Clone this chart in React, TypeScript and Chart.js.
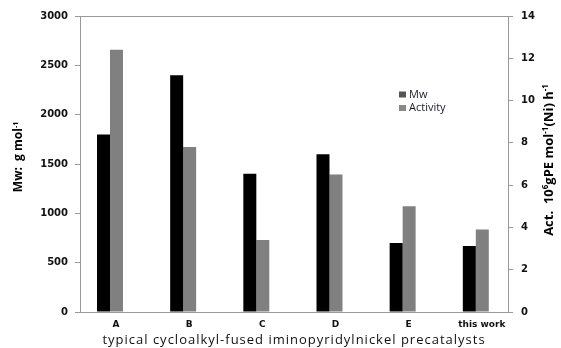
import { useEffect, useRef } from 'react';
import { Chart, registerables } from 'chart.js';

Chart.register(...registerables);

const categories = ['A', 'B', 'C', 'D', 'E', 'this work'];
const mwValues = [1800, 2400, 1400, 1600, 700, 670];
const activityValues = [12.4, 7.8, 3.4, 6.5, 5.0, 3.9];
const seriesNames = ['Mw', 'Activity'];
const mwRange = [0, 3000];
const mwStep = 500;
const actRange = [0, 14];
const actStep = 2;
const xTitle = 'typical cycloalkyl-fused iminopyridylnickel precatalysts';
const leftTitle = [{ t: 'Mw:  g mol' }, { t: '-1', sup: true }];
const rightTitle = [
  { t: 'Act.  10' },
  { t: '6', sup: true },
  { t: 'gPE mol' },
  { t: '-1', sup: true },
  { t: '(Ni) h' },
  { t: '-1', sup: true },
];

type Seg = { t: string; sup?: boolean };

const AXIS = '#9a9a9a';
const TICK_FONT = { family: 'DejaVu Sans', size: 10, weight: 'bold' as const };

function drawRich(ctx: CanvasRenderingContext2D, segs: Seg[], size: number, family: string, weight: string) {
  const main = `${weight} ${size}px ${family}`;
  const sup = `${weight} ${Math.round(size * 0.62)}px ${family}`;
  let total = 0;
  for (const s of segs) {
    ctx.font = s.sup ? sup : main;
    total += ctx.measureText(s.t).width;
  }
  let x = -total / 2;
  ctx.textAlign = 'left';
  ctx.textBaseline = 'alphabetic';
  const base = size * 0.35;
  for (const s of segs) {
    ctx.font = s.sup ? sup : main;
    ctx.fillText(s.t, x, s.sup ? base - size * 0.38 : base);
    x += ctx.measureText(s.t).width;
  }
}

const decorPlugin = {
  id: 'decor',
  afterDraw(chart: any) {
    const { ctx, chartArea } = chart;
    const { left, right, top, bottom } = chartArea;
    const xScale = chart.scales.x;
    ctx.save();
    // top border of plot box
    ctx.strokeStyle = AXIS;
    ctx.lineWidth = 1;
    ctx.beginPath();
    ctx.moveTo(left, top + 0.5);
    ctx.lineTo(right, top + 0.5);
    ctx.stroke();

    // category labels
    ctx.fillStyle = '#111';
    ctx.font = 'bold 9px "DejaVu Sans"';
    ctx.textAlign = 'center';
    ctx.textBaseline = 'middle';
    categories.forEach((c, i) => {
      ctx.fillText(c, xScale.getPixelForValue(i) + 6, 325);
    });

    ctx.fillStyle = '#000';
    // left title
    ctx.save();
    ctx.translate(18, (top + bottom) / 2 - 7);
    ctx.rotate(-Math.PI / 2);
    drawRich(ctx, leftTitle, 12, '"Open Sans"', 'bold');
    ctx.restore();
    // right title
    ctx.save();
    ctx.translate(548, (top + bottom) / 2 - 4);
    ctx.rotate(-Math.PI / 2);
    drawRich(ctx, rightTitle, 13, '"Open Sans"', 'bold');
    ctx.restore();
    // x title
    ctx.save();
    ctx.font = '13px "Open Sans"';
    (ctx as any).letterSpacing = '1px';
    ctx.textAlign = 'center';
    ctx.textBaseline = 'middle';
    ctx.fillStyle = '#111';
    ctx.fillText(xTitle, (left + right) / 2, 340);
    ctx.restore();

    // legend
    const colors = ['#555555', '#888888'];
    ctx.font = '11px "Open Sans"';
    ctx.textAlign = 'left';
    ctx.textBaseline = 'middle';
    seriesNames.forEach((name, i) => {
      const y = 94.5 + i * 13.5;
      ctx.fillStyle = colors[i];
      ctx.fillRect(399, y - 3, 7, 6);
      ctx.fillStyle = '#1a1a2a';
      ctx.fillText(name, 409, y);
    });
    ctx.restore();
  },
};

export default function App() {
  const ref = useRef<HTMLCanvasElement | null>(null);
  useEffect(() => {
    if (!ref.current) return;
    const chart = new Chart(ref.current, {
      type: 'bar',
      data: {
        datasets: [
          {
            label: seriesNames[0],
            data: categories.map((_, i) => ({ x: i, y: mwValues[i] })),
            backgroundColor: '#000000',
            yAxisID: 'y',
          },
          {
            label: seriesNames[1],
            data: categories.map((_, i) => ({ x: i, y: activityValues[i] })),
            backgroundColor: '#808080',
            yAxisID: 'y1',
          },
        ],
      },
      options: {
        responsive: false,
        animation: false,
        categoryPercentage: 0.355,
        barPercentage: 1,
        layout: { padding: { top: 16, left: 0, right: 0, bottom: 0 } },
        plugins: { legend: { display: false }, tooltip: { enabled: false } },
        scales: {
          x: {
            type: 'linear',
            offset: false,
            min: -0.41,
            max: 5.44,
            afterBuildTicks: (scale: any) => {
              scale.ticks = categories.map((_, i) => ({ value: i }));
            },
            afterFit: (scale: any) => {
              scale.height = 36;
            },
            grid: { display: false },
            border: { display: true, color: AXIS },
            ticks: { display: false },
          },
          y: {
            position: 'left',
            min: mwRange[0],
            max: mwRange[1],
            afterFit: (scale: any) => {
              scale.width = 80;
            },
            grid: { drawOnChartArea: false, tickLength: 5, color: AXIS },
            border: { display: true, color: AXIS },
            ticks: {
              stepSize: mwStep,
              font: TICK_FONT,
              color: '#111',
              padding: 7,
              callback: (v: any) => String(v),
            },
          },
          y1: {
            position: 'right',
            min: actRange[0],
            max: actRange[1],
            afterFit: (scale: any) => {
              scale.width = 53;
            },
            grid: { drawOnChartArea: false, tickLength: 5, color: AXIS },
            border: { display: true, color: AXIS },
            ticks: {
              stepSize: actStep,
              font: TICK_FONT,
              color: '#111',
              padding: 8,
              callback: (v: any) => String(v),
            },
          },
        },
      },
      plugins: [decorPlugin],
    } as any);
    return () => chart.destroy();
  }, []);
  return (
    <div style={{ position: 'fixed', left: 0, top: 0, width: 561, height: 348, background: '#fff' }}>
      <canvas ref={ref} width={561} height={348} />
    </div>
  );
}
